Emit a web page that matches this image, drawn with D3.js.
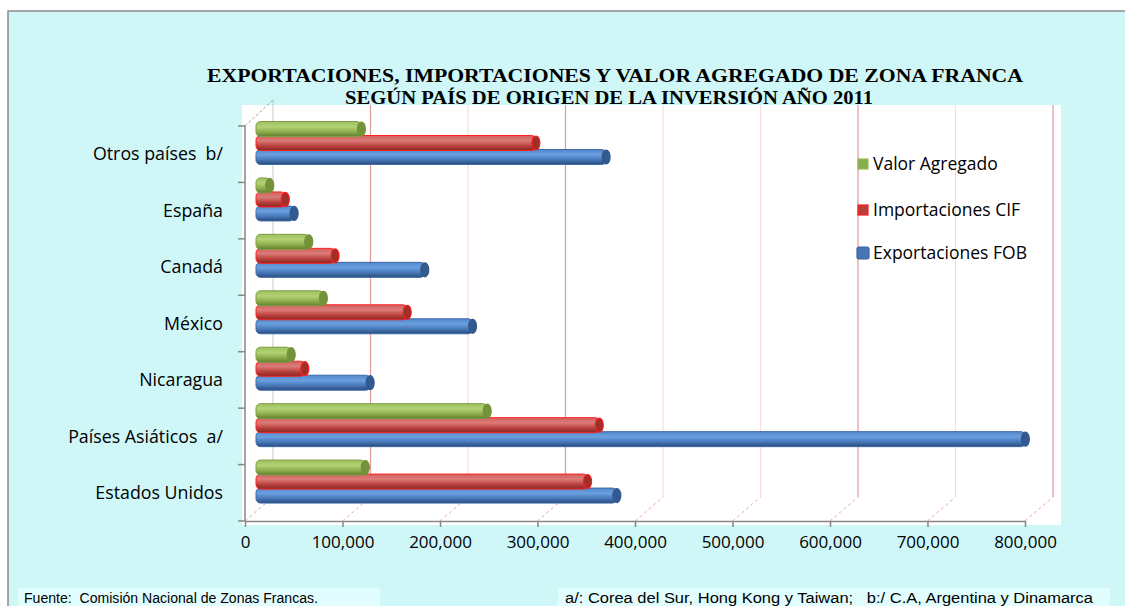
<!DOCTYPE html>
<html>
<head>
<meta charset="utf-8">
<script src="https://cdn.jsdelivr.net/npm/d3@7"></script>
<style>
  body { margin: 0; background: #ffffff; overflow: hidden; }
  svg { display: block; }
</style>
</head>
<body>
<svg id="chart" width="1125" height="606"></svg>
<script>
// categories, top to bottom as in the chart
const categories = ["Otros países  b/", "España", "Canadá", "México", "Nicaragua", "Países Asiáticos  a/", "Estados Unidos"];
const seriesNames = ["Valor Agregado", "Importaciones CIF", "Exportaciones FOB"];
// values (same order as categories)
const valorAgregado = [105000, 11000, 51000, 66000, 33000, 234000, 109000];
const importacionesCIF = [284000, 27000, 78000, 152000, 47000, 349000, 337000];
const exportacionesFOB = [356000, 36000, 170000, 219000, 114000, 786000, 367000];
const xTicks = [0, 100000, 200000, 300000, 400000, 500000, 600000, 700000, 800000];
const titleLines = [
  "EXPORTACIONES, IMPORTACIONES Y VALOR AGREGADO DE ZONA FRANCA",
  "SEGÚN PAÍS DE ORIGEN DE LA INVERSIÓN AÑO 2011"
];
const fuente = "Fuente:  Comisión Nacional de Zonas Francas.";
const nota = "a/: Corea del Sur, Hong Kong y Taiwan;   b:/ C.A, Argentina y Dinamarca";

const svg = d3.select("#chart");
const depthX = 28, depthY = 24; // 3D wall offset
const darkGrid = [100000, 300000, 600000, 800000]; // these render stronger in the original

// frame (right/bottom edges fall outside the picture)
svg.append("rect")
  .attr("x", 8).attr("y", 11)
  .attr("width", 1117).attr("height", 595)
  .attr("fill", "#cff7f8");
svg.append("path")
  .attr("d", "M8,606 V11 H1125")
  .attr("fill", "none")
  .attr("stroke", "#8a8a8a")
  .attr("stroke-width", 1.5);

// plot area
svg.append("rect")
  .attr("x", 242).attr("y", 105)
  .attr("width", 819).attr("height", 420)
  .attr("fill", "#ffffff");

// scales
const x = d3.scaleLinear().domain([0, 800000]).range([245, 1025]);
const xb = d3.scaleLinear().domain([0, 800000]).range([259, 1039]); // bars sit mid-depth
const y = d3.scaleBand().domain(categories).range([126, 521]);
const y1 = d3.scaleBand().domain(seriesNames).range([0, 42]);

// gradients for cylinder look
const defs = svg.append("defs");
const looks = {
  "Valor Agregado": { stops: ["#9cbf5c", "#b3d275", "#8aad4b", "#617e2e"], cap: "#73923a", stroke: "#7f9e45" },
  "Importaciones CIF": { stops: ["#d0625f", "#dc7a77", "#b8403c", "#8a2623"], cap: "#9e302c", stroke: "#ff2020" },
  "Exportaciones FOB": { stops: ["#5287cb", "#6a9fe0", "#4676b6", "#284c7e"], cap: "#335a8f", stroke: "#3e6aa5" }
};
seriesNames.forEach((s, i) => {
  const g = defs.append("linearGradient")
    .attr("id", "grad" + i)
    .attr("x1", 0).attr("y1", 0).attr("x2", 0).attr("y2", 1);
  [0, 0.35, 0.7, 1].forEach((o, k) => {
    g.append("stop").attr("offset", o).attr("stop-color", looks[s].stops[k]);
  });
});

// back wall gridlines
const grid = svg.append("g");
grid.selectAll("line.gl")
  .data(xTicks.slice(1))
  .enter()
  .append("line")
  .attr("x1", (d) => x(d) + depthX)
  .attr("x2", (d) => x(d) + depthX)
  .attr("y1", 105)
  .attr("y2", 521 - depthY)
  .attr("stroke", (d) => (darkGrid.includes(d) ? "#e39a9a" : "#f7dcdc"))
  .attr("stroke-width", 1.2);

// floor diagonals
grid.selectAll("line.fl")
  .data(xTicks)
  .enter()
  .append("line")
  .attr("x1", (d) => x(d))
  .attr("y1", 521)
  .attr("x2", (d) => x(d) + depthX)
  .attr("y2", 521 - depthY)
  .attr("stroke", (d) => (d === 0 ? "#b0b0b0" : "#f0a0a0"))
  .attr("stroke-dasharray", "3,3")
  .attr("stroke-width", 1);

// back-left wall edge
grid.append("line")
  .attr("x1", x(0) + depthX).attr("x2", x(0) + depthX)
  .attr("y1", 100).attr("y2", 521 - depthY)
  .attr("stroke", "#c8c8c8").attr("stroke-width", 1);
grid.append("line")
  .attr("x1", x(0)).attr("y1", 126)
  .attr("x2", x(0) + depthX).attr("y2", 126 - depthY - 2)
  .attr("stroke", "#a0a0a0")
  .attr("stroke-dasharray", "3,2");

// bars
const data = categories.map((c, i) => ({
  cat: c,
  values: [
    { s: seriesNames[0], v: valorAgregado[i] },
    { s: seriesNames[1], v: importacionesCIF[i] },
    { s: seriesNames[2], v: exportacionesFOB[i] }
  ]
}));

const groups = svg.append("g")
  .selectAll("g")
  .data(data)
  .enter()
  .append("g")
  .attr("transform", (d) => `translate(0,${y(d.cat) - 4})`);

// draw blue first, green last so upper bars overlap properly
groups.each(function (d) {
  const g = d3.select(this);
  d.values.slice().reverse().forEach((b) => {
    const i = seriesNames.indexOf(b.s);
    const top = y1(b.s) - 0.5;
    const h = y1.bandwidth() + 1;
    const x0 = xb(0), x1 = xb(b.v);
    g.append("rect")
      .attr("x", x0 - 3)
      .attr("y", top)
      .attr("width", x1 - x0 + 3)
      .attr("height", h)
      .attr("rx", 4.5)
      .attr("fill", `url(#grad${i})`)
      .attr("stroke", looks[b.s].stroke)
      .attr("stroke-width", 1);
    g.append("ellipse")
      .attr("cx", x1)
      .attr("cy", top + h / 2)
      .attr("rx", 4)
      .attr("ry", h / 2 - 0.5)
      .attr("fill", looks[b.s].cap)
      .attr("stroke", b.s === "Importaciones CIF" ? "#ff1a1a" : looks[b.s].cap)
      .attr("stroke-width", 1.2);
  });
});

// x axis
const xAxis = svg.append("g")
  .attr("transform", "translate(0,521)")
  .call(d3.axisBottom(x).tickValues(xTicks).tickFormat(d3.format(",")).tickSize(6).tickSizeOuter(0));
xAxis.select(".domain").attr("stroke", "#868686").attr("stroke-width", 1.5);
xAxis.selectAll(".tick line").attr("stroke", "#868686").attr("stroke-width", 1.5);
xAxis.selectAll(".tick text")
  .attr("fill", "#000")
  .attr("font-family", "'Open Sans', sans-serif")
  .attr("font-size", "17px")
  .attr("dy", "1.05em");

// y axis (category boundaries)
const yEdges = categories.map((c) => y(c)).concat([y.range()[1]]);
const yAxis = svg.append("g");
yAxis.append("line")
  .attr("x1", x(0)).attr("x2", x(0))
  .attr("y1", yEdges[0]).attr("y2", 521)
  .attr("stroke", "#868686").attr("stroke-width", 1.5);
yAxis.selectAll("line.t")
  .data(yEdges)
  .enter()
  .append("line")
  .attr("x1", x(0) - 7).attr("x2", x(0))
  .attr("y1", (d) => d).attr("y2", (d) => d)
  .attr("stroke", "#868686").attr("stroke-width", 1.5);
yAxis.selectAll("text")
  .data(categories)
  .enter()
  .append("text")
  .attr("x", 223)
  .attr("y", (d) => y(d) + y.bandwidth() / 2)
  .attr("dy", "0.35em")
  .attr("text-anchor", "end")
  .attr("font-family", "'Open Sans', sans-serif")
  .attr("font-size", "17.8px")
  .attr("fill", "#000")
  .style("white-space", "pre")
  .text((d) => d);

// legend
const legendY = [164, 210, 253];
const legend = svg.append("g")
  .selectAll("g")
  .data(seriesNames)
  .enter()
  .append("g")
  .attr("transform", (d, i) => `translate(858,${legendY[i]})`);
legend.append("rect")
  .attr("x", (d, i) => (i === 2 ? -1 : 0))
  .attr("y", (d, i) => (i === 2 ? -6 : -5))
  .attr("width", (d, i) => (i === 2 ? 12 : 10))
  .attr("height", (d, i) => (i === 2 ? 12 : 10))
  .attr("rx", (d, i) => (i === 2 ? 2 : 0))
  .attr("fill", (d) => looks[d].stops[2])
  .attr("stroke", (d, i) => ["#9bbb59", "#ff1a1a", "#3a639a"][i])
  .attr("stroke-width", 1.2);
legend.append("text")
  .attr("x", 15)
  .attr("dy", "0.35em")
  .attr("font-family", "'Open Sans', sans-serif")
  .attr("font-size", "17.5px")
  .attr("fill", "#000")
  .text((d) => d);

// title
svg.append("g")
  .selectAll("text")
  .data(titleLines)
  .enter()
  .append("text")
  .attr("x", (d, i) => (i === 0 ? 615 : 609))
  .attr("y", (d, i) => 82 + i * 22)
  .attr("text-anchor", "middle")
  .attr("font-family", "'Liberation Serif', 'Times New Roman', serif")
  .attr("font-weight", "bold")
  .attr("font-size", "19.5px")
  .attr("textLength", (d, i) => (i === 0 ? 816 : 528))
  .attr("lengthAdjust", "spacingAndGlyphs")
  .attr("fill", "#000")
  .text((d) => d);

// footnotes
svg.append("rect").attr("x", 18).attr("y", 588).attr("width", 362).attr("height", 20).attr("fill", "#e2fdfd");
svg.append("rect").attr("x", 558).attr("y", 588).attr("width", 552).attr("height", 20).attr("fill", "#e2fdfd");
svg.append("text")
  .attr("x", 24).attr("y", 603)
  .attr("font-family", "'Liberation Sans', Arial, sans-serif")
  .attr("font-size", "14px")
  .attr("textLength", 294)
  .attr("lengthAdjust", "spacingAndGlyphs")
  .attr("fill", "#000")
  .style("white-space", "pre")
  .text(fuente);
svg.append("text")
  .attr("x", 565).attr("y", 603)
  .attr("font-family", "'Liberation Sans', Arial, sans-serif")
  .attr("font-size", "14px")
  .attr("textLength", 528)
  .attr("lengthAdjust", "spacingAndGlyphs")
  .attr("fill", "#000")
  .style("white-space", "pre")
  .text(nota);
</script>
</body>
</html>
